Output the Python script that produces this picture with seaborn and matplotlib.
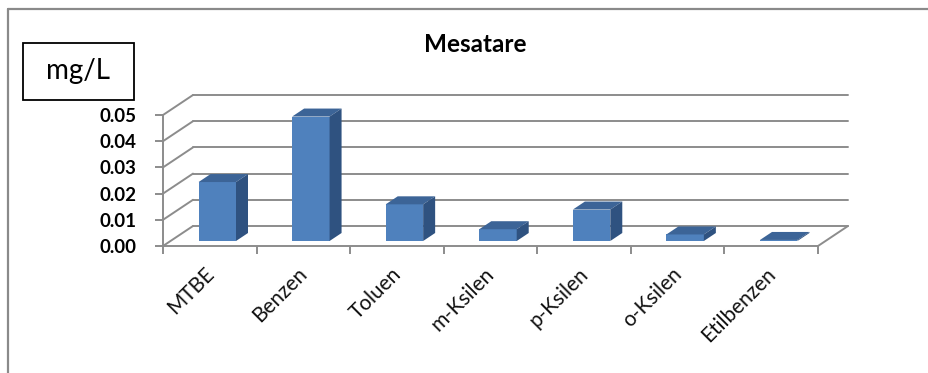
import numpy as np
import pandas as pd
import seaborn as sns
import matplotlib.pyplot as plt
from matplotlib.patches import Polygon, Rectangle
from matplotlib.lines import Line2D
from matplotlib.transforms import ScaledTranslation

# Average concentrations per compound (mg/L)
categories = ["MTBE", "Benzen", "Toluen", "m-Ksilen", "p-Ksilen", "o-Ksilen", "Etilbenzen"]
values = [0.0225, 0.0475, 0.014, 0.0045, 0.012, 0.0025, 0.0004]
y_ticks = [0.00, 0.01, 0.02, 0.03, 0.04, 0.05]
y_tick_labels = ["0.00", "0.01", "0.02", "0.03", "0.04", "0.05"]
title = "Mesatare"
unit = "mg/L"

sns.set_theme(style="white")
plt.rcParams["font.family"] = ["Lato", "DejaVu Sans"]

W, H = 929, 373
fig = plt.figure(figsize=(W / 100, H / 100), dpi=100)
ax = fig.add_axes([163 / W, 127 / H, 655 / W, 131 / H])

df = pd.DataFrame({"cat": categories, "val": values})
sns.barplot(data=df, x="cat", y="val", width=0.4, color="#4F81BD",
            saturation=1, ax=ax, zorder=3, linewidth=0)
ax.set_xlim(-0.5, len(categories) - 0.5)
ax.set_ylim(0, 0.05)

# depth direction of the pseudo-3D box: 30 px right, 20 px up
p0 = ax.transData.transform((0, 0))
p1 = ax.transData.transform((1, 0.01))
sx = p1[0] - p0[0]
sy = (p1[1] - p0[1]) / 0.01
ddx, ddy = 30 / sx, 20 / sy

grid_c = "#8c8c8c"
x_left, x_right = -0.5, len(categories) - 0.5
for t in y_ticks:
    ax.plot([x_left + ddx, x_right + ddx], [t + ddy, t + ddy], color=grid_c,
            lw=1.4, clip_on=False, zorder=1)
    ax.plot([x_left, x_left + ddx], [t, t + ddy], color=grid_c,
            lw=1.4, clip_on=False, zorder=1)
ax.plot([x_right, x_right + ddx], [0, ddy], color=grid_c, lw=1.4,
        clip_on=False, zorder=1)

# turn the flat bars into boxes
d0, bd = 0.25, 0.4
front_c, top_c, side_c = "#4F81BD", "#3C6497", "#2F5280"
for patch in list(ax.patches):
    x0 = patch.get_x() + d0 * ddx
    y0 = d0 * ddy
    w = patch.get_width()
    h = patch.get_height()
    patch.set_x(x0)
    patch.set_y(y0)
    patch.set_clip_on(False)
    top = [(x0, y0 + h), (x0 + w, y0 + h),
           (x0 + w + bd * ddx, y0 + h + bd * ddy), (x0 + bd * ddx, y0 + h + bd * ddy)]
    side = [(x0 + w, y0), (x0 + w + bd * ddx, y0 + bd * ddy),
            (x0 + w + bd * ddx, y0 + h + bd * ddy), (x0 + w, y0 + h)]
    ax.add_patch(Polygon(top, closed=True, fc=top_c, ec="none", zorder=3, clip_on=False))
    ax.add_patch(Polygon(side, closed=True, fc=side_c, ec="none", zorder=3, clip_on=False))

# axes styling
for s in ["top", "right"]:
    ax.spines[s].set_visible(False)
for s in ["left", "bottom"]:
    ax.spines[s].set_color(grid_c)
    ax.spines[s].set_linewidth(1.4)
ax.set_xlabel("")
ax.set_ylabel("")

ax.set_yticks(y_ticks)
ax.set_yticklabels(y_tick_labels, fontweight="bold")
ax.tick_params(axis="y", direction="out", length=6, width=1.4, color=grid_c,
               pad=13, labelsize=13.5, labelcolor="black", left=True)

ax.set_xticks(range(len(categories)))
ax.set_xticklabels(categories, rotation=45, ha="right", va="center",
                   rotation_mode="anchor")
ax.set_xticks(np.arange(-0.5, len(categories)), minor=True)
ax.tick_params(axis="x", which="major", length=0, pad=18, labelsize=15,
               labelcolor="#111111")
ax.tick_params(axis="x", which="minor", direction="out", length=6, width=1.4,
               color=grid_c, bottom=True)
shift = ScaledTranslation(1 / 100, 0, fig.dpi_scale_trans)
for lab in ax.get_xticklabels():
    lab.set_transform(lab.get_transform() + shift)

# title and unit box
fig.text(475 / W, 1 - 44 / H, title, ha="center", va="center",
         fontsize=17.5, fontweight="bold", color="black")
fig.add_artist(Rectangle((23 / W, 1 - 100 / H), 111 / W, 57 / H,
                         transform=fig.transFigure, fill=False, ec="black", lw=1.3))
fig.text(78.5 / W, 1 - 71.5 / H, unit, ha="center", va="center",
         fontsize=20, color="black")

# outer frame (left and top edges)
fig.add_artist(Line2D([8 / W, 8 / W], [0, 1 - 9 / H], transform=fig.transFigure,
                      color="#8a8a8a", lw=1.6))
fig.add_artist(Line2D([8 / W, 1], [1 - 9 / H, 1 - 9 / H], transform=fig.transFigure,
                      color="#8a8a8a", lw=1.6))

fig.savefig("out.png", dpi=100, facecolor="white")
